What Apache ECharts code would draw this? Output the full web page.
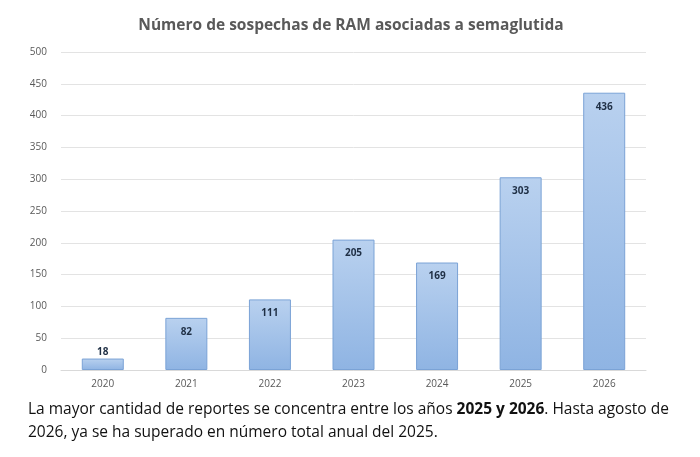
<!DOCTYPE html>
<html><head><meta charset="utf-8">
<script src="https://cdn.jsdelivr.net/npm/echarts@6/dist/echarts.min.js"></script>
<style>html,body{margin:0;padding:0;background:#fff}#c{width:700px;height:457px}</style>
</head><body><div id="c"></div>
<script>
const categories = ['2020','2021','2022','2023','2024','2025','2026'];
const values = [18,82,111,205,169,303,436];
const titleText = 'Número de sospechas de RAM asociadas a semaglutida';
const chart = echarts.init(document.getElementById('c'));
chart.setOption({
  animation:false,
  title:{text:titleText,left:346,top:13,textAlign:'center',textStyle:{fontFamily:'Open Sans',fontSize:15.5,fontWeight:'bold',color:'#595959'}},
  grid:{left:61,right:54,top:52,bottom:87},
  xAxis:{type:'category',data:categories,axisTick:{show:false},axisLine:{lineStyle:{color:'#d9d9d9'}},
    axisLabel:{color:'#595959',fontSize:10,fontFamily:'Open Sans',margin:9}},
  yAxis:{type:'value',min:0,max:500,interval:50,axisLabel:{color:'#595959',fontSize:10,fontFamily:'Open Sans',margin:14},
    splitLine:{lineStyle:{color:'#e3e3e3'}}},
  series:[{type:'bar',data:values.map((v,i)=>i===0?{value:v,label:{position:'top',distance:1}}:v),barWidth:42,
    itemStyle:{borderColor:'#7ba3d6',borderWidth:1,
      color:new echarts.graphic.LinearGradient(0,0,0,1,[{offset:0,color:'#b9d1ef'},{offset:1,color:'#8fb4e3'}])},
    label:{show:true,position:'insideTop',distance:9,color:'#1f2f45',fontSize:10,fontWeight:'bold',fontFamily:'Open Sans'}}],
  graphic:[{type:'text',left:28,top:398,style:{
    text:'La mayor cantidad de reportes se concentra entre los años {b|2025 y 2026}. Hasta agosto de\n2026, ya se ha superado en número total anual del 2025.',
    fontFamily:'Open Sans',fontSize:15.5,fill:'#111',lineHeight:23,
    rich:{b:{fontWeight:'bold',fontFamily:'Open Sans',fontSize:15.5,fill:'#111'}}}}]
});
</script></body></html>
